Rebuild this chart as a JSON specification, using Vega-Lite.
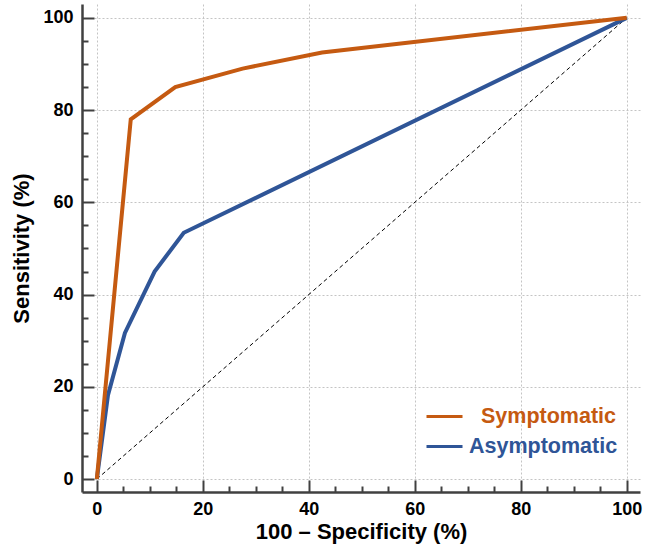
{
  "$schema": "https://vega.github.io/schema/vega-lite/v6.json",
  "width": 558,
  "height": 488,
  "autosize": "none",
  "padding": {"left": 82, "top": 4, "right": 5, "bottom": 62},
  "background": "white",
  "config": {"view": {"stroke": null}, "font": "Liberation Sans"},
  "datasets": {
    "diag": [{"fpr": 0, "tpr": 0}, {"fpr": 100, "tpr": 100}],
    "roc": [
      {"series": "Asymptomatic", "fpr": 0, "tpr": 0},
      {"series": "Asymptomatic", "fpr": 2.1, "tpr": 18.2},
      {"series": "Asymptomatic", "fpr": 5.3, "tpr": 31.7},
      {"series": "Asymptomatic", "fpr": 10.9, "tpr": 45},
      {"series": "Asymptomatic", "fpr": 16.4, "tpr": 53.4},
      {"series": "Asymptomatic", "fpr": 100, "tpr": 100},
      {"series": "Symptomatic", "fpr": 0, "tpr": 0},
      {"series": "Symptomatic", "fpr": 6.4, "tpr": 78},
      {"series": "Symptomatic", "fpr": 14.8, "tpr": 85},
      {"series": "Symptomatic", "fpr": 27.5, "tpr": 89},
      {"series": "Symptomatic", "fpr": 42.5, "tpr": 92.5},
      {"series": "Symptomatic", "fpr": 100, "tpr": 100}
    ]
  },
  "encoding": {
    "x": {
      "field": "fpr", "type": "quantitative",
      "scale": {"domain": [-2.8, 102.5], "nice": false, "zero": false},
      "axis": {
        "title": "100 – Specificity (%)",
        "values": [0,5,10,15,20,25,30,35,40,45,50,55,60,65,70,75,80,85,90,95,100],
        "labelExpr": "datum.value % 20 === 0 ? datum.label : ''",
        "labelOverlap": false,
        "labelFlush": false,
        "tickSize": {"condition": {"test": "datum.value % 20 === 0", "value": -12}, "value": -6},
        "grid": true,
        "gridOpacity": {"condition": {"test": "datum.value % 20 === 0", "value": 1}, "value": 0},
        "gridColor": "#c4c4c4", "gridDash": [2, 2], "gridWidth": 1,
        "domainColor": "#404040", "domainWidth": 2.5,
        "tickColor": "#404040", "tickWidth": 2,
        "labelFontSize": 18, "labelFontWeight": "bold", "labelColor": "black", "labelPadding": 20,
        "titleFontSize": 22, "titleFontWeight": "bold", "titleColor": "black", "titlePadding": -3
      }
    },
    "y": {
      "field": "tpr", "type": "quantitative",
      "scale": {"domain": [-2.8, 103], "nice": false, "zero": false},
      "axis": {
        "title": "Sensitivity (%)",
        "values": [0,5,10,15,20,25,30,35,40,45,50,55,60,65,70,75,80,85,90,95,100],
        "labelExpr": "datum.value % 20 === 0 ? datum.label : ''",
        "labelOverlap": false,
        "labelFlush": false,
        "tickSize": {"condition": {"test": "datum.value % 20 === 0", "value": -12}, "value": -6},
        "grid": true,
        "gridOpacity": {"condition": {"test": "datum.value % 20 === 0", "value": 1}, "value": 0},
        "gridColor": "#c4c4c4", "gridDash": [2, 2], "gridWidth": 1,
        "domainColor": "#404040", "domainWidth": 2.5,
        "tickColor": "#404040", "tickWidth": 2,
        "labelFontSize": 18, "labelFontWeight": "bold", "labelColor": "black", "labelPadding": 21,
        "titleFontSize": 22, "titleFontWeight": "bold", "titleColor": "black", "titlePadding": 9
      }
    }
  },
  "layer": [
    {
      "data": {"name": "diag"},
      "mark": {"type": "line", "color": "black", "strokeWidth": 1, "strokeDash": [4, 3]}
    },
    {
      "data": {"name": "roc"},
      "mark": {"type": "line", "strokeWidth": 4},
      "encoding": {
        "color": {
          "field": "series", "type": "nominal",
          "scale": {"domain": ["Symptomatic", "Asymptomatic"], "range": ["#C55A11", "#2F5597"]},
          "legend": {
            "title": null,
            "orient": "none",
            "legendX": 343,
            "legendY": 393,
            "padding": 0,
            "symbolType": "stroke",
            "symbolSize": 1296,
            "symbolStrokeWidth": 3,
            "labelFontSize": 21.5,
            "labelFontWeight": "bold",
            "labelOffset": 5,
            "rowPadding": 0,
            "encode": {
              "labels": {
                "update": {
                  "fill": {"signal": "datum.value === 'Symptomatic' ? '#C55A11' : '#2F5597'"},
                  "dx": {"signal": "datum.value === 'Symptomatic' ? 12 : 0"}
                }
              }
            }
          }
        }
      }
    }
  ]
}
